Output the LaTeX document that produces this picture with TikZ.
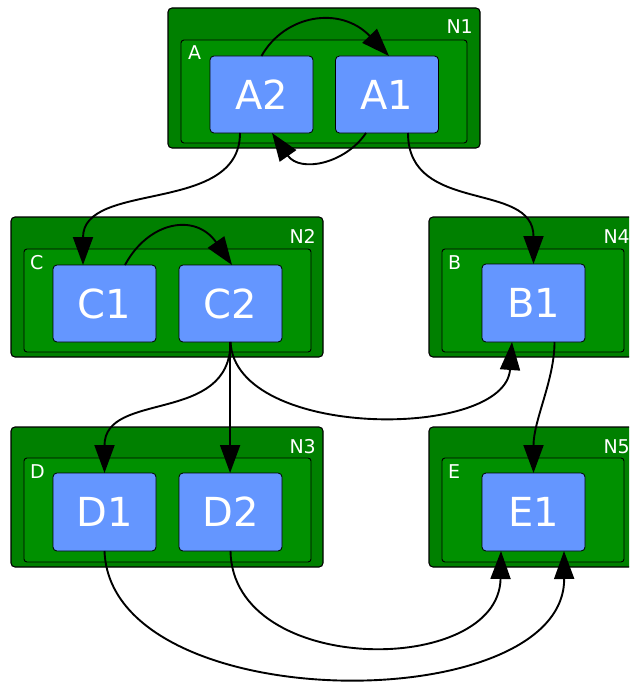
\documentclass[tikz,border=0pt]{standalone}
\usepackage{fontspec}
\setmainfont{DejaVu Sans}
\usetikzlibrary{arrows.meta}
\definecolor{outergreen}{RGB}{0,128,0}
\definecolor{innergreen}{RGB}{0,144,0}
\definecolor{boxblue}{RGB}{100,150,255}
\begin{document}
\begin{tikzpicture}[x=1pt,y=-1pt,
  frame/.style={rectangle, draw=black, line width=1.1pt, fill=outergreen,
    rounded corners=4pt, inner sep=0pt, outer sep=0pt},
  cluster/.style={rectangle, draw=black, line width=0.9pt, fill=innergreen,
    rounded corners=3pt, inner sep=0pt, outer sep=0pt},
  proc/.style={rectangle, draw=black, line width=0.8pt, fill=boxblue,
    rounded corners=4pt, inner sep=0pt, outer sep=0pt,
    minimum width=103pt, minimum height=77pt,
    text=white, font=\fontsize{40}{48}\selectfont},
  lbl/.style={text=white, inner sep=0pt, font=\fontsize{19}{22}\selectfont},
  link/.style={line width=1.9pt, -{Triangle[length=28pt,width=20pt]}}]
\useasboundingbox (0,0) rectangle (629,682);
\clip (0,0) rectangle (629,682);

% outer frames
\node[frame, minimum width=312pt, minimum height=140pt] (N1) at (324,78) {};
\node[frame, minimum width=312pt, minimum height=140pt] (N2) at (167,287) {};
\node[frame, minimum width=312pt, minimum height=140pt] (N3) at (167,497) {};
\node[frame, minimum width=208pt, minimum height=140pt] (N4) at (533,287) {};
\node[frame, minimum width=208pt, minimum height=140pt] (N5) at (533,497) {};

% inner clusters
\node[cluster, minimum width=286pt, minimum height=103pt] (A) at (324,91.5) {};
\node[cluster, minimum width=287pt, minimum height=103pt] (C) at (167.5,300.5) {};
\node[cluster, minimum width=287pt, minimum height=104pt] (D) at (167.5,510) {};
\node[cluster, minimum width=182pt, minimum height=103pt] (B) at (533,300.5) {};
\node[cluster, minimum width=182pt, minimum height=104pt] (E) at (533,510) {};

% frame and cluster captions
\node[lbl, anchor=base east] (N1lab) at (473,34) {N1};
\node[lbl, anchor=base east] (N2lab) at (316,243) {N2};
\node[lbl, anchor=base east] (N3lab) at (316,453) {N3};
\node[lbl, anchor=base east] (N4lab) at (630,243) {N4};
\node[lbl, anchor=base east] (N5lab) at (630,453) {N5};
\node[lbl, anchor=base west] (Alab) at (188,60) {A};
\node[lbl, anchor=base west] (Clab) at (30,269) {C};
\node[lbl, anchor=base west] (Dlab) at (30,478) {D};
\node[lbl, anchor=base west] (Blab) at (448,269) {B};
\node[lbl, anchor=base west] (Elab) at (448,478) {E};

% process boxes
\node[proc] (A2) at (261.5,94.5) {A2};
\node[proc] (A1) at (387,94.5) {A1};
\node[proc] (C1) at (104.5,303.5) {C1};
\node[proc] (C2) at (230.5,303.5) {C2};
\node[proc, minimum height=78pt] (D1) at (104.5,512) {D1};
\node[proc, minimum height=78pt] (D2) at (230.5,512) {D2};
\node[proc, minimum height=78pt] (B1) at (533.5,303) {B1};
\node[proc, minimum height=78pt] (E1) at (533.5,512) {E1};

% connectors
\draw[link] (A2.north) .. controls +(23,-41) and +(-49,-51) .. ([xshift=2pt]A1.north);
\draw[link] ([xshift=-21pt]A1.south) .. controls +(-21,31) and +(28,40) .. ([xshift=10.5pt]A2.south);
\draw[link] ([xshift=-21.5pt]A2.south) .. controls +(0,82) and +(0,-85) .. ([xshift=-21.5pt]C1.north);
\draw[link] ([xshift=21pt]A1.south) .. controls +(0,82) and +(0,-84) .. (B1.north);
\draw[link] ([xshift=20.5pt]C1.north) .. controls +(23,-43) and +(-37,-53) .. ([xshift=1.5pt]C2.north);
\draw[link] (C2.south) .. controls +(0,83) and +(0,-83) .. (D1.north);
\draw[link] ([xshift=-0.4pt]C2.south) -- ([xshift=-0.4pt]D2.north);
\draw[link] (C2.south) .. controls +(5,98) and +(-7,98) .. ([xshift=-21.5pt]B1.south);
\draw[link] ([xshift=21pt]B1.south) .. controls +(0,38) and +(0,-53) .. (E1.north);
\draw[link] (D2.south) .. controls +(2,126) and +(-2,126) .. ([xshift=-32.5pt]E1.south);
\draw[link] (D1.south) .. controls +(6,168) and +(1,168) .. ([xshift=30.5pt]E1.south);
\end{tikzpicture}
\end{document}
